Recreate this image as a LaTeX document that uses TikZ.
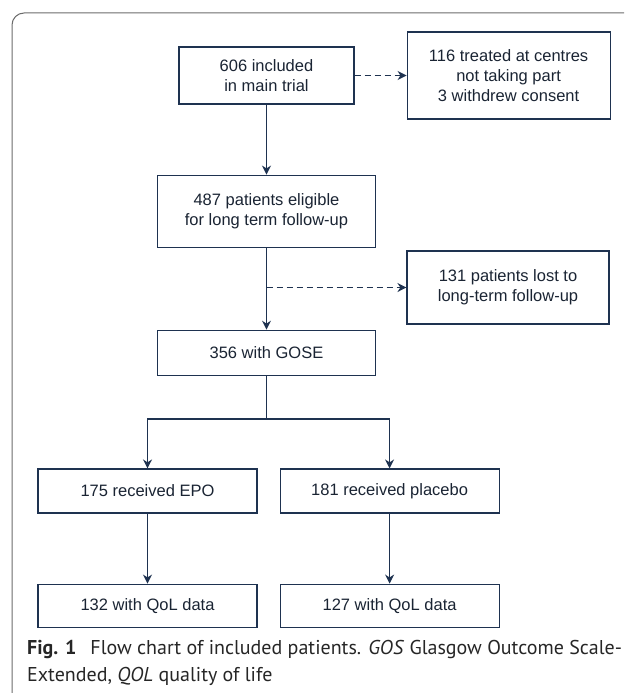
\documentclass[tikz,border=0pt]{standalone}
\usepackage{fontspec}
\setmainfont{Liberation Sans}
\newfontfamily\capfont{PT Sans}
\usetikzlibrary{positioning,arrows.meta}
\definecolor{navy}{HTML}{1E3250}
\definecolor{ink}{HTML}{1A2433}
\definecolor{framegray}{HTML}{6B6B6B}

\begin{document}
\begin{tikzpicture}[x=1pt, y=1pt, font=\fontsize{16.5}{20}\selectfont, text=ink,
		box/.style={draw=navy, line width=1.1pt, align=center, inner sep=0pt},
		flow/.style={draw=navy, line width=1.1pt, -{Stealth[length=9pt,width=9pt]}},
		side/.style={flow, dash pattern=on 6pt off 4pt}]
	\useasboundingbox (0,0) rectangle (624,-693);
	\draw[framegray, line width=1pt, rounded corners=12pt] (12,-693) |- (624,-13);
	% main column
	\node[box, minimum width=175pt, minimum height=57pt] (incl) at (266.5,-75.5) {606 included\\in main trial};
	\node[box, minimum width=203pt, minimum height=87pt, right=52pt of incl] (excl) {116 treated at centres\\not taking part\\3 withdrew consent};
	\node[box, minimum width=218pt, minimum height=72pt, below=70pt of incl] (elig) {487 patients eligible\\for long term follow-up};
	\node[box, minimum width=218pt, minimum height=45pt, below=82pt of elig] (gose) {356 with GOSE};
	\node[box, minimum width=202pt, minimum height=73pt] (lost) at (508,-287.5) {131 patients lost to\\long-term follow-up};
	% two arms
	\coordinate (split) at (266.5,-419);
	\node[box, minimum width=219pt, minimum height=44pt] (epo) at (147.5,-491) {175 received EPO};
	\node[box, minimum width=219pt, minimum height=44pt, right=22pt of epo] (plac) {181 received placebo};
	\node[box, minimum width=219pt, minimum height=43pt, below=70pt of epo] (qolepo) {132 with QoL data};
	\node[box, minimum width=219pt, minimum height=43pt, below=70pt of plac] (qolplac) {127 with QoL data};
	\draw[flow] (incl) -- (elig);
	\draw[side] (incl) -- (excl);
	\draw[flow] (elig) -- (gose);
	\draw[side] (elig.south |- lost.west) -- (lost.west);
	\draw[navy, line width=1.1pt] (gose) -- (split);
	\draw[flow] (split) -| (epo);
	\draw[flow] (split) -| (plac);
	\draw[flow] (epo) -- (qolepo);
	\draw[flow] (plac) -- (qolplac);
	\node[anchor=north west, inner sep=0pt, align=left, text=black!85, font=\capfont\fontsize{20}{27}\selectfont] (caption) at (27,-640)
		{\textbf{Fig. 1}\hspace{0.7em}Flow chart of included patients. \textit{GOS} Glasgow Outcome Scale-\\Extended, \textit{QOL} quality of life};
\end{tikzpicture}
\end{document}
